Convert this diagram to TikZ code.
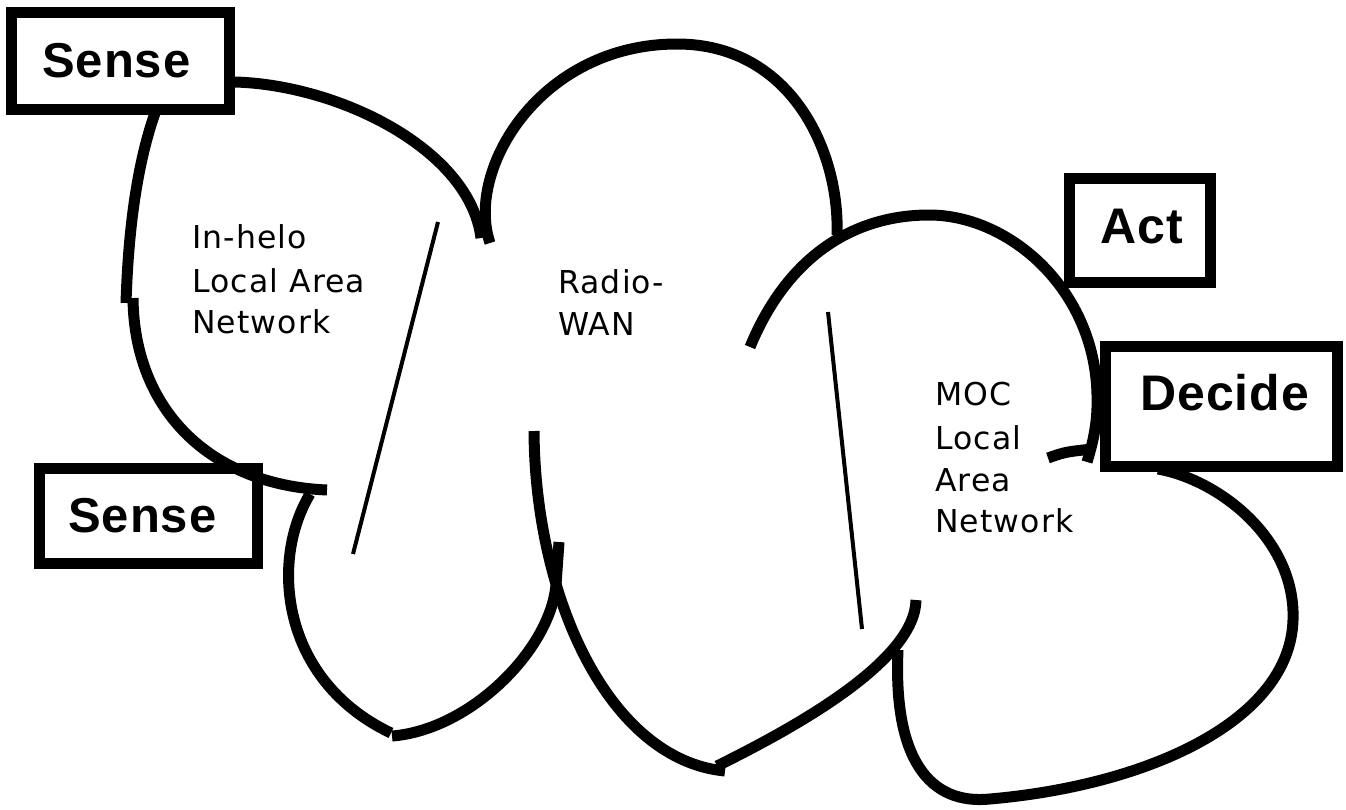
\documentclass[tikz,border=0pt]{standalone}
\usepackage{fontspec}
\setmainfont{DejaVu Sans}
\newfontfamily\lanfont[LetterSpace=3.5]{DejaVu Sans}
\newfontfamily\boxfont[LetterSpace=2]{Liberation Sans}
\tikzset{
  cloud/.style={line width=11pt, line cap=butt, line join=round},
  divider/.style={line width=4pt},
  boxnode/.style={draw, line width=11.3pt, inner sep=0pt},
  boxtext/.style={inner sep=0pt, anchor=base west, font=\boxfont\bfseries\fontsize{49}{49}\selectfont},
  lantext/.style={inner sep=0pt, anchor=base west, font=\lanfont\fontsize{31.5}{31.5}\selectfont},
}
\begin{document}
\begin{tikzpicture}[x=1pt, y=-1pt]
\useasboundingbox[fill=white] (0,0) rectangle (1346,809);

% In-helo cloud
\draw[cloud] (155,113) .. controls (135,170) and (128,240) .. (126,303);
\draw[cloud] (133,298) .. controls (134,410) and (210,485) .. (327,490);
\draw[cloud] (235,82) .. controls (340,85) and (470,150) .. (481,238);
\draw[cloud] (310,494) .. controls (270,560) and (280,680) .. (391,733);
\draw[cloud] (392,736) .. controls (470,730) and (550,650) .. (556,585) -- (559,542);

% Radio-WAN cloud
\draw[cloud] (490,243) .. controls (465,170) and (540,44) .. (677,44)
             .. controls (790,44) and (840,150) .. (837,235);
\draw[cloud] (534,431) .. controls (535,600) and (610,760) .. (725,771);
\draw[cloud] (717,766) .. controls (800,725) and (915,660) .. (916,600);

% MOC cloud
\draw[cloud] (898,650) .. controls (893,760) and (930,805) .. (990,799)
             .. controls (1150,785) and (1290,720) .. (1293,620)
             .. controls (1296,540) and (1220,480) .. (1158,469);
\draw[cloud] (750,347) .. controls (790,250) and (860,215) .. (929,215)
             .. controls (1010,215) and (1095,290) .. (1097,395)
             .. controls (1098,425) and (1092,445) .. (1087,462);
\draw[cloud] (1048,458) .. controls (1065,452) .. (1092,449);

% thin dividers
\coordinate (d1a) at (438,222);
\coordinate (d1b) at (353,554);
\coordinate (d2a) at (828,312);
\coordinate (d2b) at (862,629);
\draw[divider] (d1a) -- (d1b);
\draw[divider] (d2a) -- (d2b);

% boxes
\node[boxnode, minimum width=217.7pt, minimum height=96.7pt] (sense1box) at (120.5,61) {};
\node[boxtext] (sense1txt) at (42,77) {Sense};
\node[boxnode, minimum width=217.7pt, minimum height=94.7pt] (sense2box) at (148.5,516) {};
\node[boxtext] (sense2txt) at (68,532) {Sense};
\node[boxnode, minimum width=140.7pt, minimum height=103.7pt] (actbox) at (1140,230.5) {};
\node[boxtext, font=\boxfont\bfseries\fontsize{50}{50}\selectfont] (acttxt) at (1100,243) {Act};
\node[boxnode, minimum width=231.7pt, minimum height=119.7pt] (decidebox) at (1221.5,406.5) {};
\node[boxtext, font=\boxfont\bfseries\fontsize{50}{50}\selectfont] (decidetxt) at (1140,410) {Decide};

% cloud labels
\node[lantext] (inhelo1) at (192,248) {In-helo};
\node[lantext] (inhelo2) at (192,292) {Local Area};
\node[lantext] (inhelo3) at (192,333) {Network};
\node[lantext] (wan1) at (558,293) {Radio-};
\node[lantext] (wan2) at (558,335) {WAN};
\node[lantext] (moc1) at (935,405) {MOC};
\node[lantext] (moc2) at (935,449) {Local};
\node[lantext] (moc3) at (935,491) {Area};
\node[lantext] (moc4) at (935,532) {Network};
\end{tikzpicture}
\end{document}
